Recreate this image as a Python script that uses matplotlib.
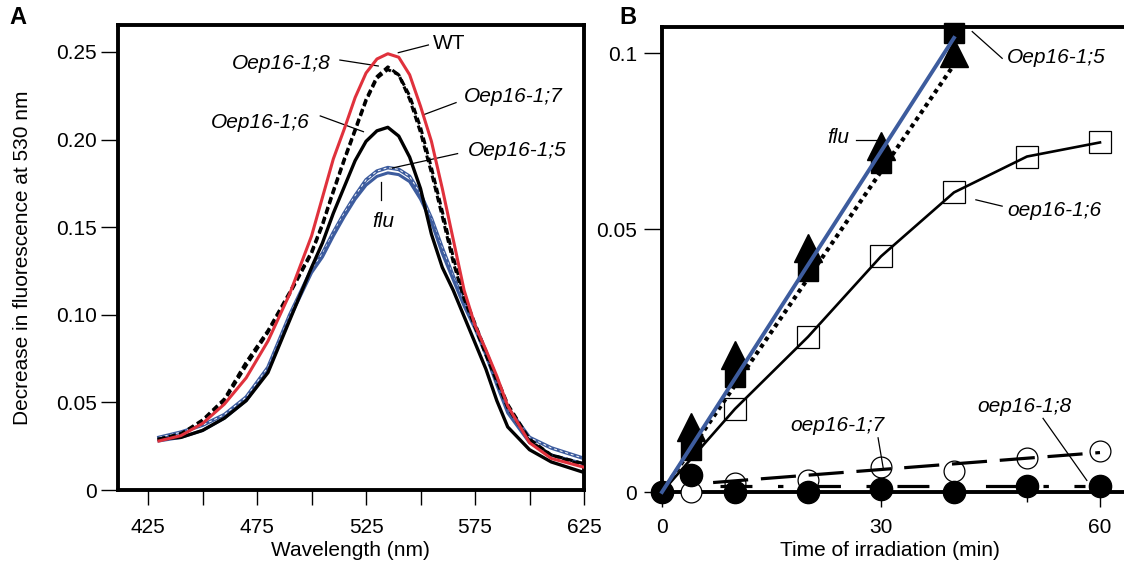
import numpy as np
import matplotlib
matplotlib.use("Agg")
import matplotlib.pyplot as plt
from matplotlib.scale import FuncScale

plt.rcParams["font.family"] = ["Liberation Sans", "DejaVu Sans"]

# =========================
# DATA - PANEL A (spectra)
# =========================
wavelength = [430, 440, 450, 460, 470, 480, 490, 500, 505, 510, 515, 520, 525, 530, 535,
              540, 545, 550, 555, 560, 565, 570, 575, 580, 585, 590, 600, 610, 625]

wt = [0.028, 0.031, 0.038, 0.049, 0.064, 0.085, 0.112, 0.145, 0.167, 0.189, 0.206, 0.224, 0.238, 0.246, 0.249,
      0.247, 0.237, 0.219, 0.199, 0.172, 0.143, 0.114, 0.094, 0.080, 0.065, 0.048, 0.027, 0.018, 0.013]
oep8 = [0.029, 0.032, 0.040, 0.052, 0.073, 0.091, 0.113, 0.136, 0.152, 0.171, 0.189, 0.206, 0.223, 0.236, 0.2415,
        0.237, 0.223, 0.204, 0.181, 0.156, 0.130, 0.109, 0.093, 0.077, 0.062, 0.047, 0.028, 0.020, 0.014]
oep7 = [0.029, 0.032, 0.039, 0.051, 0.071, 0.090, 0.112, 0.135, 0.151, 0.170, 0.188, 0.205, 0.222, 0.235, 0.240,
        0.237, 0.225, 0.207, 0.184, 0.159, 0.133, 0.111, 0.095, 0.079, 0.064, 0.049, 0.029, 0.020, 0.015]
oep6 = [0.029, 0.030, 0.034, 0.041, 0.051, 0.067, 0.097, 0.127, 0.141, 0.158, 0.173, 0.188, 0.199, 0.205, 0.207,
        0.202, 0.190, 0.172, 0.146, 0.127, 0.114, 0.099, 0.084, 0.069, 0.051, 0.036, 0.023, 0.016, 0.010]
oep5 = [0.030, 0.033, 0.037, 0.043, 0.053, 0.070, 0.100, 0.126, 0.135, 0.147, 0.158, 0.168, 0.177, 0.182, 0.184,
        0.183, 0.179, 0.169, 0.155, 0.138, 0.122, 0.107, 0.094, 0.079, 0.063, 0.047, 0.030, 0.024, 0.018]
flu = [0.028, 0.030, 0.034, 0.041, 0.051, 0.068, 0.098, 0.124, 0.133, 0.145, 0.156, 0.166, 0.174, 0.179, 0.181,
       0.180, 0.176, 0.166, 0.153, 0.135, 0.120, 0.105, 0.092, 0.077, 0.060, 0.044, 0.027, 0.020, 0.015]

# =========================
# DATA - PANEL B (time course)
# =========================
t_flu = [4, 10, 20, 30, 40]
v_flu = [0.0124, 0.026, 0.0464, 0.0735, 0.100]
flu_fit_t = [0, 40]
flu_fit_v = [0, 0.1043]

t_oep5 = [4, 10, 20, 30, 40]
v_oep5 = [0.0079, 0.0219, 0.042, 0.0688, 0.1057]
oep5_fit_t = [0, 40]
oep5_fit_v = [0, 0.0967]

t_oep6 = [0, 10, 20, 30, 40, 50, 60]
v_oep6 = [0, 0.0158, 0.0295, 0.0448, 0.0604, 0.0706, 0.0746]

t_circ = [0, 4, 10, 20, 30, 40, 50, 60]
v_oep7 = [0, 0, 0.0018, 0.0022, 0.0048, 0.0040, 0.0065, 0.0078]
v_oep8 = [0, 0.0033, 0, 0, 0.0006, 0, 0.0011, 0.0011]
oep7_fit_t = [7, 60]
oep7_fit_v = [0.0018, 0.0075]
oep8_fit_t = [8, 58]
oep8_fit_v = [0.0011, 0.0011]

RED = "#e0313c"
BLUE = "#3d5c9e"
FS = 15

fig = plt.figure(figsize=(11.24, 5.66), dpi=100)

# =========================
# PANEL A
# =========================
axA = fig.add_axes([118 / 1124, 76 / 566, 466 / 1124, 465 / 566])

axA.plot(wavelength, oep5, color=BLUE, lw=2.6, zorder=2)
axA.plot(wavelength, oep5, color="white", lw=0.7, ls=(0, (3, 3)), zorder=2.1)
axA.plot(wavelength, flu, color=BLUE, lw=2.2, zorder=2.2)
axA.plot(wavelength, oep6, color="black", lw=2.4, zorder=3)
axA.plot(wavelength, oep7, color="black", lw=2.2, ls=(0, (2.2, 1.2)), zorder=3.1)
axA.plot(wavelength, oep8, color="black", lw=2.2, ls=(0, (2.2, 1.2)), zorder=3.2)
axA.plot(wavelength, wt, color=RED, lw=2.2, zorder=4)

axA.set_xlim(411.2, 625)
axA.set_ylim(0, 0.2654)
axA.set_xticks([425, 475, 525, 575, 625])
axA.set_xticks([450, 500, 550, 600], minor=True)
axA.set_yticks([0, 0.05, 0.10, 0.15, 0.20, 0.25])
axA.set_yticklabels(["0", "0.05", "0.10", "0.15", "0.20", "0.25"])
axA.tick_params(axis="both", which="both", direction="out", labelsize=FS, width=1.0)
axA.tick_params(axis="x", which="both", length=11, pad=9)
axA.tick_params(axis="y", length=12, pad=3)
for s in axA.spines.values():
    s.set_linewidth(2.8)

axA.set_xlabel("Wavelength (nm)", fontsize=FS)
axA.xaxis.set_label_coords(0.498, -0.11)
axA.set_ylabel("Decrease in fluorescence at 530 nm", fontsize=FS)
axA.yaxis.set_label_coords(-0.185, 0.5)

# labels with leader lines
lab_kw = dict(fontsize=FS, ha="center", va="center")
axA.text(563, 0.255, "WT", **lab_kw)
axA.plot([553.6, 539.8], [0.254, 0.2496], color="black", lw=0.9)
axA.text(486, 0.2435, "Oep16-1;8", style="italic", **lab_kw)
axA.plot([513, 530.6], [0.2454, 0.242], color="black", lw=0.9)
axA.text(592.5, 0.2245, "Oep16-1;7", style="italic", **lab_kw)
axA.plot([566.3, 551], [0.2211, 0.214], color="black", lw=0.9)
axA.text(476.6, 0.2097, "Oep16-1;6", style="italic", **lab_kw)
axA.plot([504, 523.8], [0.2135, 0.2045], color="black", lw=0.9)
axA.text(594.4, 0.1937, "Oep16-1;5", style="italic", **lab_kw)
axA.plot([567, 536.4], [0.192, 0.1836], color="black", lw=0.9)
axA.text(532.8, 0.153, "flu", style="italic", **lab_kw)
axA.plot([532, 532], [0.176, 0.1655], color="black", lw=0.9)

fig.text(18 / 1124, 1 - 18 / 566, "A", fontsize=17, fontweight="bold", ha="center", va="center")

# =========================
# PANEL B
# =========================
def fwd(v):
    v = np.asarray(v, dtype=float)
    return np.where(v <= 0.05, v * 263 / 0.05, 263 + (v - 0.05) * 176 / 0.05)

def inv(p):
    p = np.asarray(p, dtype=float)
    return np.where(p <= 263, p * 0.05 / 263, 0.05 + (p - 263) * 0.05 / 176)

axB = fig.add_axes([662 / 1124, 74 / 566, 462 / 1124, 465 / 566])
axB.set_yscale(FuncScale(axB, (fwd, inv)))

# markers (the t=0 point of oep16-1;6 is hidden under the filled circle)
mk = dict(clip_on=False, zorder=3)
axB.plot(t_flu, v_flu, ls="none", marker="^", ms=20, color="black", **mk)
axB.plot(t_oep5, v_oep5, ls="none", marker="s", ms=14, color="black", **mk)
axB.plot(t_oep6[1:], v_oep6[1:], ls="none", marker="s", ms=15.5, mfc="white", mec="black", mew=0.9, **mk)
axB.plot(t_circ, v_oep7, ls="none", marker="o", ms=15, mfc="white", mec="black", mew=0.9, **mk)
axB.plot(t_circ, v_oep8, ls="none", marker="o", ms=16, color="black", **mk)

# lines
axB.plot(t_oep6, v_oep6, color="black", lw=1.9, zorder=4, clip_on=False)
axB.plot(oep5_fit_t, oep5_fit_v, color="black", lw=3, ls=(0, (1, 1)), zorder=4, clip_on=False)
axB.plot(flu_fit_t, flu_fit_v, color=BLUE, lw=2.8, zorder=5, clip_on=False)
axB.plot(oep7_fit_t, oep7_fit_v, color="black", lw=2.3, ls=(0, (11, 4)), zorder=4)
axB.plot(oep8_fit_t, oep8_fit_v, color="black", lw=2.3, ls=(0, (10, 8, 1.7, 8)), zorder=4)

axB.set_xlim(0, 63.29)
axB.set_ylim(0, 0.1074)
axB.set_xticks([0, 30, 60])
axB.set_xticks([10, 20, 40, 50], minor=True)
axB.set_yticks([0, 0.05, 0.1])
axB.set_yticklabels(["0", "0.05", "0.1"])
axB.tick_params(axis="both", which="both", direction="out", labelsize=FS, width=1.0)
axB.tick_params(axis="x", which="major", length=11, pad=8)
axB.tick_params(axis="x", which="minor", length=7)
axB.tick_params(axis="y", length=13, pad=5)
axB.spines["right"].set_visible(False)
for k in ["left", "top", "bottom"]:
    axB.spines[k].set_linewidth(2.8)

axB.set_xlabel("Time of irradiation (min)", fontsize=FS)
axB.xaxis.set_label_coords(0.4935, -0.106)

axB.text(54, 0.0986, "Oep16-1;5", style="italic", **lab_kw)
axB.plot([46.6, 42.5], [0.0985, 0.1061], color="black", lw=0.9, zorder=6)
axB.text(24.2, 0.0759, "flu", style="italic", **lab_kw)
axB.plot([26.6, 29.5], [0.0753, 0.0753], color="black", lw=0.9, zorder=6)
axB.text(53.7, 0.0554, "oep16-1;6", style="italic", **lab_kw)
axB.plot([46.6, 43], [0.0565, 0.0583], color="black", lw=0.9, zorder=6)
axB.text(24, 0.0127, "oep16-1;7", style="italic", **lab_kw)
axB.plot([29.6, 30.3], [0.0103, 0.0046], color="black", lw=0.9, zorder=6)
axB.text(49.7, 0.0162, "oep16-1;8", style="italic", **lab_kw)
axB.plot([52.2, 58.2], [0.014, 0.0022], color="black", lw=0.9, zorder=6)

fig.text(628 / 1124, 1 - 18 / 566, "B", fontsize=17, fontweight="bold", ha="center", va="center")

fig.savefig("out.png", dpi=100)
